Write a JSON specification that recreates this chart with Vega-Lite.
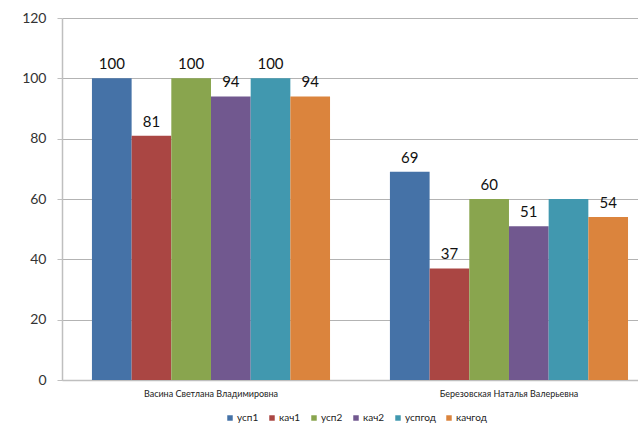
{
  "$schema": "https://vega.github.io/schema/vega-lite/v6.json",
  "width": 576,
  "height": 362,
  "autosize": {"type": "none"},
  "padding": {"left": 62, "top": 18, "right": 0, "bottom": 48},
  "background": "white",
  "config": {
    "view": {"stroke": null},
    "font": "Lato"
  },
  "data": {
    "values": [
      {"teacher": "Васина Светлана Владимировна", "series": "усп1", "value": 100},
      {"teacher": "Васина Светлана Владимировна", "series": "кач1", "value": 81},
      {"teacher": "Васина Светлана Владимировна", "series": "усп2", "value": 100},
      {"teacher": "Васина Светлана Владимировна", "series": "кач2", "value": 94},
      {"teacher": "Васина Светлана Владимировна", "series": "успгод", "value": 100},
      {"teacher": "Васина Светлана Владимировна", "series": "качгод", "value": 94},
      {"teacher": "Березовская Наталья Валерьевна", "series": "усп1", "value": 69},
      {"teacher": "Березовская Наталья Валерьевна", "series": "кач1", "value": 37},
      {"teacher": "Березовская Наталья Валерьевна", "series": "усп2", "value": 60},
      {"teacher": "Березовская Наталья Валерьевна", "series": "кач2", "value": 51},
      {"teacher": "Березовская Наталья Валерьевна", "series": "успгод", "value": 60},
      {"teacher": "Березовская Наталья Валерьевна", "series": "качгод", "value": 54}
    ]
  },
  "encoding": {
    "x": {
      "field": "teacher",
      "type": "nominal",
      "sort": null,
      "scale": {"paddingInner": 0.201, "paddingOuter": 0.067, "align": 0.75},
      "axis": {
        "title": null,
        "labelAngle": 0,
        "labelFontSize": 9,
        "labelColor": "#222222",
        "labelPadding": 9,
        "ticks": false,
        "domainColor": "#bfbfbf",
        "domainWidth": 1.5,
        "grid": false
      }
    },
    "xOffset": {
      "field": "series",
      "type": "nominal",
      "sort": ["усп1", "кач1", "усп2", "кач2", "успгод", "качгод"],
      "scale": {"paddingInner": 0, "paddingOuter": 0}
    },
    "y": {
      "field": "value",
      "type": "quantitative",
      "scale": {"domain": [0, 120], "nice": false},
      "axis": {
        "title": null,
        "values": [0, 20, 40, 60, 80, 100, 120],
        "labelFontSize": 14,
        "labelColor": "#333333",
        "labelPadding": 11,
        "tickSize": 5,
        "tickColor": "#bfbfbf",
        "domainColor": "#bfbfbf",
        "domainWidth": 1.5,
        "gridColor": "#b3b3b3",
        "gridWidth": 1
      }
    }
  },
  "layer": [
    {
      "mark": {"type": "bar"},
      "encoding": {
        "color": {
          "field": "series",
          "type": "nominal",
          "sort": ["усп1", "кач1", "усп2", "кач2", "успгод", "качгод"],
          "scale": {
            "domain": ["усп1", "кач1", "усп2", "кач2", "успгод", "качгод"],
            "range": ["#4572A7", "#AA4643", "#89A54E", "#71588F", "#4198AF", "#DB843D"]
          },
          "legend": {
            "title": null,
            "orient": "none",
            "legendX": 163,
            "legendY": 395,
            "direction": "horizontal",
            "symbolType": "square",
            "symbolSize": 30,
            "symbolStrokeWidth": 0,
            "labelFontSize": 10,
            "labelColor": "#222222",
            "labelOffset": 2,
            "columnPadding": 8
          }
        }
      }
    },
    {
      "transform": [
        {"filter": "!(datum.teacher === 'Березовская Наталья Валерьевна' && datum.series === 'успгод')"}
      ],
      "mark": {"type": "text", "baseline": "bottom", "dy": -6, "fontSize": 15, "color": "#111111"},
      "encoding": {
        "text": {"field": "value", "type": "quantitative"}
      }
    }
  ]
}
